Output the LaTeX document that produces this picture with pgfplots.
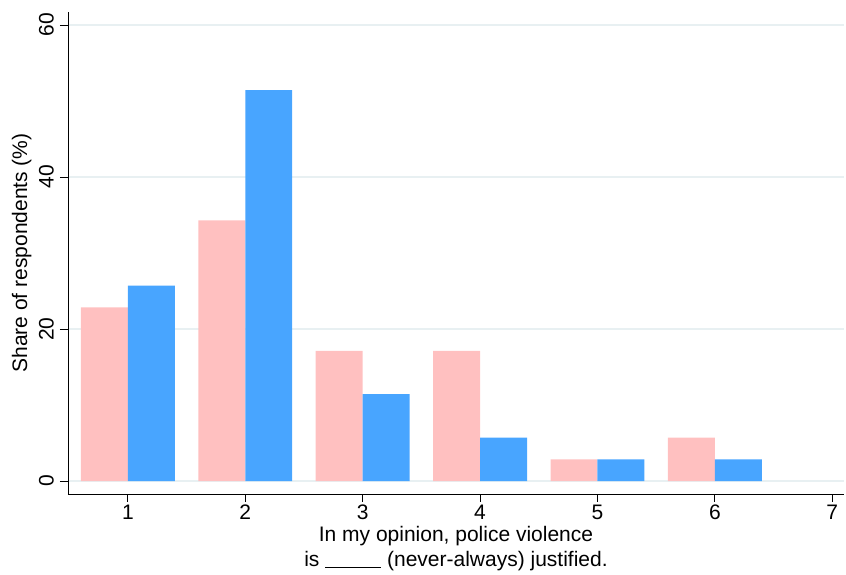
\documentclass[border=0pt]{standalone}
\usepackage{fontspec}
\setmainfont{Liberation Sans}
\usepackage{pgfplots}
\pgfplotsset{compat=1.18}
\definecolor{pinkbar}{RGB}{255,192,192}
\definecolor{bluebar}{RGB}{72,165,255}
\definecolor{gridc}{RGB}{232,240,242}
\begin{document}
\begin{tikzpicture}
\begin{axis}[name=ax, scale only axis, width=776pt, height=482pt,
  xmin=0.49, xmax=7.1, ymin=-1.7, ymax=61.7,
  axis x line*=bottom, axis y line*=left,
  xtick={1,2,3,4,5,6,7}, ytick={0,20,40,60},
  ymajorgrids, grid style={gridc, line width=1.2pt},
  tick align=outside, major tick length=8pt,
  tick style={black, line width=0.8pt},
  axis line style={black, line width=0.9pt},
  /pgf/number format/assume math mode=true,
  ticklabel style={font=\fontsize{21}{25}\selectfont},
  yticklabel style={rotate=90, anchor=south, inner sep=6pt},
  xticklabel style={inner sep=3pt},
  ylabel={Share of respondents (\%)},
  ylabel style={font=\fontsize{21}{25}\selectfont},
  ylabel shift=-2pt,
  xlabel={In my opinion, police violence\\is \rule[-1pt]{56pt}{1pt} (never-always) justified.},
  xlabel style={font=\fontsize{21}{25}\selectfont, align=center},
  ybar, bar width=0.4,
]
\addplot[fill=pinkbar, draw=none, bar shift=-0.2] coordinates {(1,22.86) (2,34.29) (3,17.14) (4,17.14) (5,2.86) (6,5.71)};
\addplot[fill=bluebar, draw=none, bar shift=0.2] coordinates {(1,25.71) (2,51.43) (3,11.43) (4,5.71) (5,2.86) (6,2.86)};
\end{axis}
\path ([xshift=-68pt,yshift=-80pt]ax.south west) rectangle ([xshift=2pt,yshift=12pt]ax.north east);
\end{tikzpicture}
\end{document}
